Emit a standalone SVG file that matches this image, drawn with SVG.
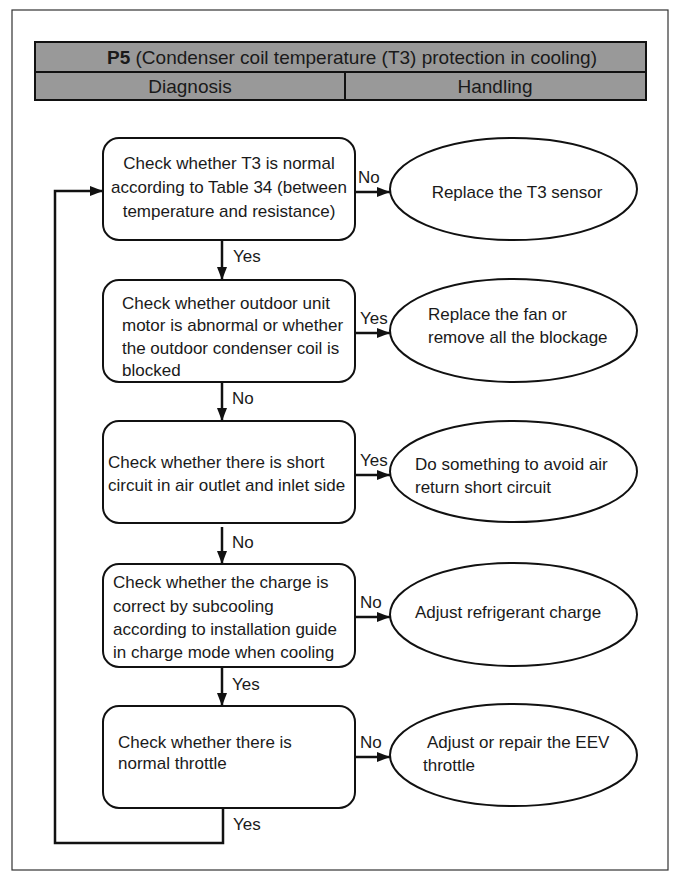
<svg xmlns="http://www.w3.org/2000/svg" width="681" height="882" viewBox="0 0 681 882">
<defs>
<marker id="ah" viewBox="0 0 13 10" refX="13" refY="5" markerWidth="13" markerHeight="10" markerUnits="userSpaceOnUse" orient="auto">
<path d="M0,0 L13,5 L0,10 Z" fill="#111"/>
</marker>
</defs>
<style>
text{font-family:"Liberation Sans",Arial,sans-serif;font-size:17px;fill:#1a1a1a}
.h{font-size:19px}
.box{fill:#fff;stroke:#111;stroke-width:2}
.ell{fill:#fff;stroke:#111;stroke-width:2}
.arr{fill:none;stroke:#111;stroke-width:2.5;marker-end:url(#ah)}
.hdr{fill:#999;stroke:#111;stroke-width:2}
.c{text-anchor:middle}
</style>
<rect x="12" y="10" width="656" height="860" fill="#fff" stroke="#333" stroke-width="1.2"/>
<g id="header">
<rect class="hdr" x="35" y="42" width="611" height="30"/>
<rect class="hdr" x="35" y="72" width="310" height="28"/>
<rect class="hdr" x="345" y="72" width="301" height="28"/>
<text class="c h" x="352" y="64"><tspan font-weight="bold">P5</tspan>  (Condenser coil temperature (T3) protection in cooling)</text>
<text class="c h" x="190" y="93">Diagnosis</text>
<text class="c h" x="495" y="93">Handling</text>
</g>
<g id="connectors">
<line class="arr" x1="355" y1="192" x2="390" y2="192"/>
<line class="arr" x1="222" y1="240" x2="222" y2="280"/>
<line class="arr" x1="355" y1="333" x2="390" y2="333"/>
<line class="arr" x1="222" y1="382" x2="222" y2="421"/>
<line class="arr" x1="355" y1="475" x2="390" y2="475"/>
<line class="arr" x1="222" y1="527" x2="222" y2="564"/>
<line class="arr" x1="355" y1="617" x2="390" y2="617"/>
<line class="arr" x1="222" y1="667" x2="222" y2="706"/>
<line class="arr" x1="355" y1="757" x2="390" y2="757"/>
<polyline class="arr" points="223,808 223,843 55,843 55,191 103,191"/>
<text x="358" y="183">No</text>
<text x="233" y="262">Yes</text>
<text x="360" y="324">Yes</text>
<text x="232" y="404">No</text>
<text x="360" y="466">Yes</text>
<text x="232" y="548">No</text>
<text x="360" y="608">No</text>
<text x="232" y="690">Yes</text>
<text x="360" y="748">No</text>
<text x="233" y="830">Yes</text>
</g>
<g id="check-t3">
<rect class="box" x="103" y="138" width="252" height="102" rx="16"/>
<text class="c" x="229" y="169">Check whether T3 is normal</text>
<text class="c" x="229" y="193">according to Table 34 (between</text>
<text class="c" x="229" y="217">temperature and resistance)</text>
</g>
<g id="replace-t3">
<ellipse class="ell" cx="513.5" cy="189" rx="123.5" ry="51"/>
<text class="c" x="517" y="198">Replace the T3 sensor</text>
</g>
<g id="check-motor">
<rect class="box" x="103" y="280" width="252" height="102" rx="16"/>
<text x="122" y="309">Check whether outdoor unit</text>
<text x="122" y="331">motor is abnormal or whether</text>
<text x="122" y="354">the outdoor condenser coil is</text>
<text x="122" y="376">blocked</text>
</g>
<g id="replace-fan">
<ellipse class="ell" cx="513.5" cy="330.5" rx="123.5" ry="51.5"/>
<text x="428" y="320">Replace the fan or</text>
<text x="428" y="343">remove all the blockage</text>
</g>
<g id="check-short">
<rect class="box" x="103" y="421" width="252" height="102" rx="16"/>
<text x="108" y="468">Check whether there is short</text>
<text x="108" y="491">circuit in air outlet and inlet side</text>
</g>
<g id="avoid-short">
<ellipse class="ell" cx="513.5" cy="471.5" rx="123.5" ry="50.5"/>
<text x="415" y="470">Do something to avoid air</text>
<text x="415" y="493">return short circuit</text>
</g>
<g id="check-charge">
<rect class="box" x="103" y="564" width="252" height="103" rx="16"/>
<text x="113" y="588">Check whether the charge is</text>
<text x="113" y="612">correct by subcooling</text>
<text x="113" y="635">according to installation guide</text>
<text x="113" y="658">in charge mode when cooling</text>
</g>
<g id="adjust-charge">
<ellipse class="ell" cx="513.5" cy="614.5" rx="123.5" ry="51.5"/>
<text x="415" y="618">Adjust refrigerant charge</text>
</g>
<g id="check-throttle">
<rect class="box" x="103" y="706" width="252" height="102" rx="16"/>
<text x="118" y="748">Check whether there is</text>
<text x="118" y="769">normal throttle</text>
</g>
<g id="repair-eev">
<ellipse class="ell" cx="513.5" cy="755" rx="123.5" ry="51"/>
<text x="427" y="748">Adjust or repair the EEV</text>
<text x="423" y="771">throttle</text>
</g>
</svg>
